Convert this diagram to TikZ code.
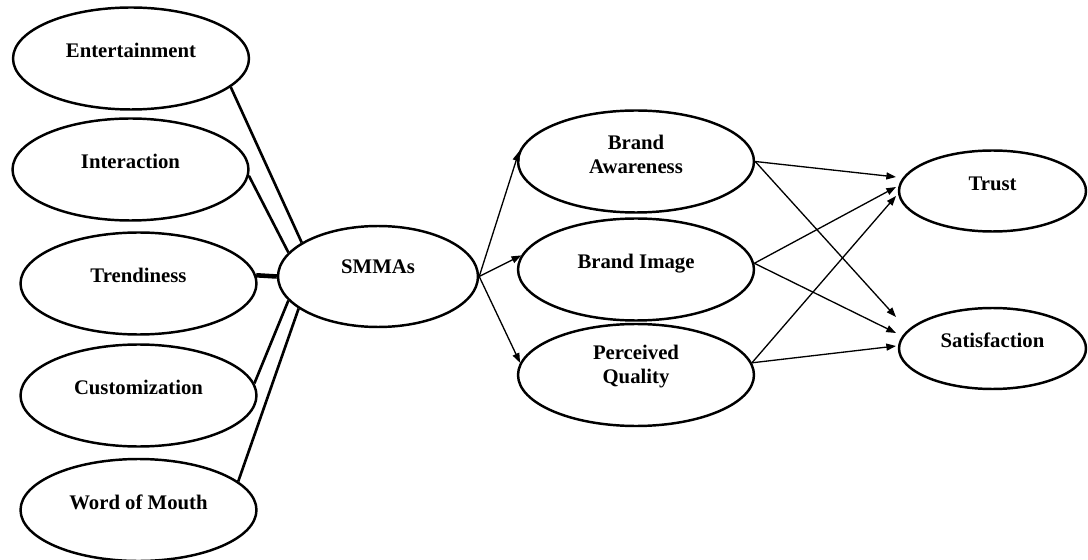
\documentclass[tikz,border=0pt]{standalone}
\usepackage{fontspec}
\setmainfont{Liberation Serif}
\usetikzlibrary{arrows.meta,shapes.geometric}
\newcommand{\rl}[1]{\raisebox{0.5pt}[0pt][0pt]{#1}}
\newcommand{\rtwo}[3]{\raisebox{#1}[0pt][0pt]{\begin{tabular}[b]{@{}c@{}}#2\\#3\end{tabular}}}
\begin{document}
\begin{tikzpicture}[x=0.02cm,y=-0.02cm,
  ell/.style={ellipse, draw, line width=1.4pt, inner sep=0pt,
    font=\fontsize{11.8}{13.7}\selectfont\bfseries},
  bigell/.style={ell, minimum width=47.2mm, minimum height=20.4mm},
  midell/.style={ell, minimum width=40mm, minimum height=20.2mm},
  smallell/.style={ell, minimum width=37.4mm, minimum height=16.2mm},
  conn/.style={line width=1.5pt},
  thickconn/.style={line width=2.6pt},
  arr/.style={line width=0.75pt, -{Triangle[length=5.5pt,width=4pt]}}]
\useasboundingbox (0,0) rectangle (1088,560);

% left column
\node[bigell] (ent) at (131,58.5) {\rl{Entertainment}};
\node[bigell] (int) at (130.5,169.5) {\rl{Interaction}};
\node[bigell] (tre) at (138.5,283.5) {\rl{Trendiness}};
\node[bigell] (cus) at (138.5,395.5) {\rl{Customization}};
\node[bigell] (wom) at (138.5,510) {\rl{Word of Mouth}};

% centre
\node[midell] (smm) at (378,276.5) {\raisebox{1.5pt}[0pt][0pt]{SMMAs}};

% middle column
\node[bigell] (ba) at (636,161.5) {\rtwo{-6.9pt}{Brand}{Awareness}};
\node[bigell] (bi) at (636,269.5) {\rl{Brand Image}};
\node[bigell] (pq) at (636,375) {\rtwo{-5pt}{Perceived}{Quality}};

% right column
\node[smallell] (tru) at (992.5,191) {\rl{Trust}};
\node[smallell] (sat) at (992.5,348.5) {\rl{Satisfaction}};

% arrow targets near the right ellipses
\coordinate (t1) at (896,177);
\coordinate (t2) at (896,187);
\coordinate (t3) at (896,196);
\coordinate (s1) at (896,317);
\coordinate (s2) at (896,333);
\coordinate (s3) at (896,346);

% connectors to SMMAs
\draw[conn] (ent.-16.9) -- (smm.156.9);
\draw[conn] (int.-3.7) -- (smm.165.4);
\draw[thickconn] (tre.4) -- (smm.west);
\draw[conn] (cus.6.2) -- (smm.-165.4);
\draw[conn] (wom.16.5) -- (smm.-158.5);

% SMMAs to middle column
\draw[arr] (smm.east) -- (ba.175.9);
\draw[arr] (smm.east) -- (bi.173);
\draw[arr] (smm.east) -- (pq.174.3);

% middle column to outcomes
\draw[arr] (ba.east) -- (t1);
\draw[arr] (ba.east) -- (s1);
\draw[arr] (bi.3.2) -- (t2);
\draw[arr] (bi.3.2) -- (s2);
\draw[arr] (pq.6.3) -- (t3);
\draw[arr] (pq.6.3) -- (s3);
\end{tikzpicture}
\end{document}
